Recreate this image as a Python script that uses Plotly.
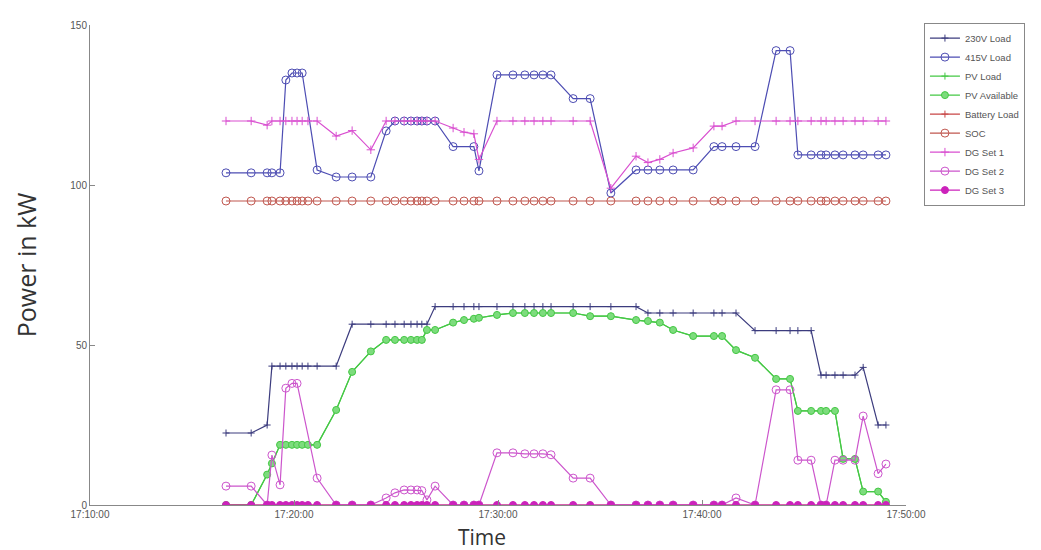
import plotly.graph_objects as go

day = "2015-01-01 "
times = ["17:16:40", "17:17:54", "17:18:41", "17:18:55", "17:19:19", "17:19:36", "17:19:54", "17:20:09",
         "17:20:24", "17:20:41", "17:21:08", "17:22:04", "17:22:51", "17:23:46", "17:24:31", "17:24:57",
         "17:25:24", "17:25:44", "17:26:02", "17:26:16", "17:26:31", "17:26:55", "17:27:48", "17:28:20",
         "17:28:49", "17:29:04", "17:29:57", "17:30:44", "17:31:19", "17:31:46", "17:32:12", "17:32:36",
         "17:33:41", "17:34:31", "17:35:32", "17:36:46", "17:37:21", "17:37:56", "17:38:35", "17:39:34",
         "17:40:35", "17:40:59", "17:41:40", "17:42:36", "17:43:38", "17:44:19", "17:44:42", "17:45:21",
         "17:45:50", "17:46:05", "17:46:31", "17:46:55", "17:47:30", "17:47:54", "17:48:38", "17:49:01"]

load_230v = [22.5, 22.5, 25, 43.4, 43.4, 43.4, 43.4, 43.4, 43.4, 43.4, 43.4, 43.4, 56.5, 56.5, 56.5, 56.5,
             56.5, 56.5, 56.5, 56.5, 56.5, 62, 62, 62, 62, 62, 62, 62, 62, 62, 62, 62,
             62, 62, 62, 62, 60, 60, 60, 60, 60, 60, 60, 54.5, 54.5, 54.5, 54.5, 54.5,
             40.6, 40.6, 40.6, 40.6, 40.6, 43, 25, 25]

load_415v = [103.8, 103.8, 103.8, 103.8, 103.8, 132.8, 135, 135, 135, None, 104.7, 102.5, 102.5, 102.5, 116.9, 120,
             120, 120, 120, 120, 120, 120, 112, None, 112, 104.4, 134.4, 134.4, 134.4, 134.4, 134.4, 134.4,
             127, 127, 97.5, 104.7, 104.7, 104.7, 104.7, 104.7, 112, 112, 112, 112, 142, 142, 109.4, 109.4,
             109.4, 109.4, 109.4, 109.4, 109.4, 109.4, 109.4, 109.4]

pv_available = [0, 0, 9.5, 13, 18.8, 18.8, 18.8, 18.8, 18.8, 18.8, 18.8, 29.7, 41.6, 48, 51.6, 51.6,
                51.6, 51.6, 51.6, 51.6, 54.7, 54.7, 57, 57.8, 58.2, 58.5, 59.4, 60, 60, 60, 60, 60,
                60, 59, 59, 57.8, 57.5, 57, 54.7, 52.8, 52.8, 52.8, 48.4, 46, 39.4, 39.4, 29.4, 29.4,
                29.4, 29.4, 29.4, 14.4, 14.4, 4.2, 4.2, 1]

pv_load = pv_available

battery_load = [0] * 56

soc = [95] * 56

dg_set1 = [120, 120, 118.7, 120, 120, 120, 120, 120, 120, 120, 120, 115.3, 117, 111, 120, 120,
           120, 120, 120, 120, 120, 120, 117.8, 116.5, 116, 108, 120, 120, 120, 120, 120, 120,
           120, 120, 99, 109, 107, 108, 110, 111.6, 118.4, 118.4, 120, 120, 120, 120, 120, 120,
           120, 120, 120, 120, 120, 120, 120, 120]

dg_set2 = [5.9, 5.9, 0, 15.6, 6.3, 36.5, 38, 38, None, None, 8.4, 0, 0, 0, 2.2, 3.8,
           4.7, 4.7, 4.7, 4.5, 1.6, 5.9, 0, 0, 0, 0, 16.3, 16.3, 16, 16, 16, 15.7,
           8.4, 8.4, 0, 0, 0, 0, 0, 0, 0, 0, 2.2, 0, 36, 36, 14, 14,
           0, 0, 14, 14, 14, 27.8, 9.8, 12.8]

dg_set3 = [0] * 56

x = [day + t for t in times]

series = [
    ("230V Load", load_230v, "#3c3c7e", "cross-thin-open", 5, None),
    ("415V Load", load_415v, "#4d4db3", "circle-open", 8, None),
    ("PV Load", pv_load, "#45c845", "cross-thin-open", 5, None),
    ("PV Available", pv_available, "#45c845", "circle", 7, "#7ddc7d"),
    ("Battery Load", battery_load, "#c84646", "cross-thin-open", 5, None),
    ("SOC", soc, "#c0574f", "circle-open", 8, None),
    ("DG Set 1", dg_set1, "#d94fd0", "cross-thin-open", 6, None),
    ("DG Set 2", dg_set2, "#cc55cc", "circle-open", 8, None),
    ("DG Set 3", dg_set3, "#cc22bb", "circle", 7, "#cc22bb"),
]

fig = go.Figure()
for name, vals, color, sym, size, fill in series:
    marker = dict(symbol=sym, size=size, color=fill if fill else color,
                  line=dict(color=color, width=1))
    fig.add_trace(go.Scatter(x=x, y=vals, name=name, mode="lines+markers",
                             connectgaps=True,
                             line=dict(color=color, width=1.2), marker=marker))

fig.update_layout(
    width=1041, height=550,
    margin=dict(l=82, r=143, t=17, b=53, autoexpand=False),
    paper_bgcolor="white", plot_bgcolor="white",
    font=dict(family="Arial, Liberation Sans, sans-serif", color="#444"),
    legend=dict(x=1.022, y=1.005, xanchor="left", yanchor="top",
                bordercolor="#888", borderwidth=1, bgcolor="white",
                font=dict(size=9.5, color="#555"), tracegroupgap=0,
                itemwidth=30),
    showlegend=True,
    annotations=[dict(text="Time", xref="paper", yref="paper", x=0.48, y=-0.1,
                      xanchor="center", yanchor="bottom", showarrow=False,
                      font=dict(size=21, color="#333", family="Open Sans, Arial"))],
)
fig.update_xaxes(
    range=[day + "17:10:00", day + "17:50:00"],
    tickformat="%H:%M:%S", dtick=600000, tick0=day + "17:10:00",
    showline=True, linecolor="#888", linewidth=1, showgrid=False, zeroline=False,
    ticks="inside", ticklen=5, tickcolor="#888", automargin=False,
    tickfont=dict(size=10, color="#555"),
)
fig.update_yaxes(
    range=[0, 150], tickvals=[0, 50, 100, 150],
    showline=True, linecolor="#888", linewidth=1, showgrid=False, zeroline=False,
    ticks="inside", ticklen=5, tickcolor="#888", automargin=False,
    tickfont=dict(size=10, color="#555"),
    title=dict(text="Power in kW", font=dict(size=25, color="#333", family="Open Sans, Arial"), standoff=26),
)

fig.write_html("out.html")
